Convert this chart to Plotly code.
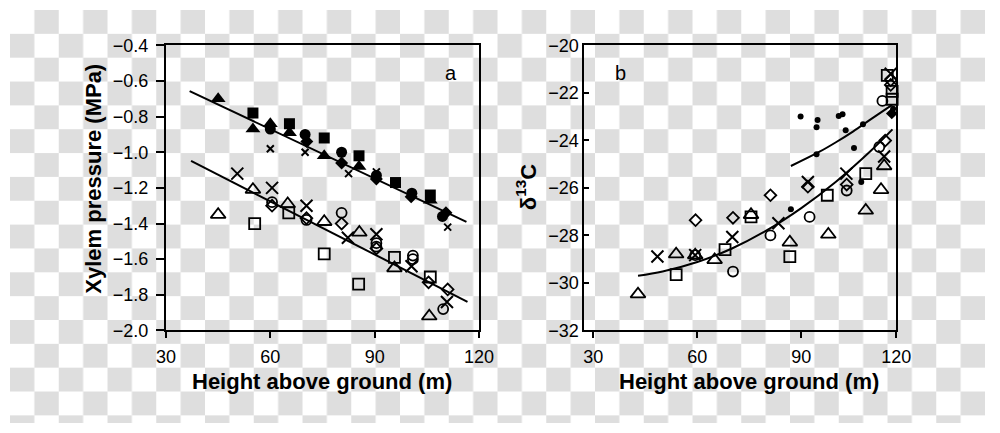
import base64
import plotly.graph_objects as go

# ---------------- Panel a: xylem pressure (MPa) vs height (m) ----------------
a_tri_f_h = [45, 55, 60, 65.5, 75.5, 85.5, 106]
a_tri_f_p = [-0.70, -0.87, -0.84, -0.89, -1.02, -1.08, -1.27]
a_sq_f_h = [55, 65.5, 75.5, 85.5, 96, 106]
a_sq_f_p = [-0.78, -0.84, -0.92, -1.02, -1.17, -1.24]
a_circ_f_h = [60, 70, 80.5, 90.5, 100.7, 109.5]
a_circ_f_p = [-0.87, -0.90, -1.00, -1.13, -1.23, -1.36]
a_dia_f_h = [70.5, 80.5, 90.5, 100.5, 110.5]
a_dia_f_p = [-0.94, -1.06, -1.15, -1.25, -1.34]
a_xs_h = [60, 70, 82.5, 90.5, 111]
a_xs_p = [-0.98, -1.00, -1.12, -1.11, -1.42]

a_tri_o_h = [45, 55, 65, 75.5, 85.6, 95.7, 105.7]
a_tri_o_p = [-1.35, -1.21, -1.29, -1.39, -1.45, -1.65, -1.92]
a_sq_o_h = [55.5, 65.3, 75.5, 85.4, 95.7, 106]
a_sq_o_p = [-1.40, -1.34, -1.57, -1.74, -1.59, -1.70]
a_circ_o_h = [60.5, 70.4, 80.5, 90.5, 90.5, 101, 101, 109.7]
a_circ_o_p = [-1.28, -1.38, -1.34, -1.51, -1.53, -1.58, -1.60, -1.88]
a_dia_o_h = [60.5, 70.4, 80.5, 90.5, 105.5, 111]
a_dia_o_p = [-1.30, -1.37, -1.40, -1.54, -1.73, -1.77]
a_x_h = [50.5, 60.5, 70.4, 82.3, 90.5, 100.6, 110.8]
a_x_p = [-1.12, -1.20, -1.30, -1.48, -1.46, -1.64, -1.84]

a_fit_f_h = [36.8, 116.4]
a_fit_f_p = [-0.657, -1.391]
a_fit_o_h = [37.2, 116.7]
a_fit_o_p = [-1.049, -1.839]

# ---------------- Panel b: delta 13C vs height (m) ----------------
b_dot_h = [89.8, 94.7, 94.4, 100.8, 101.9, 102.8, 107.8, 94.4, 105.2, 107.3, 87, 116.5]
b_dot_d = [-23.0, -23.14, -23.45, -22.98, -22.90, -23.57, -23.32, -24.59, -24.32, -25.75, -26.9, -22.67]
b_dia_f_h = [116.1]
b_dia_f_d = [-22.87]
b_tri_o_h = [42.9, 53.9, 59.4, 65, 75.5, 86.7, 97.8, 108.6, 113, 113.9]
b_tri_o_d = [-30.47, -28.79, -28.83, -29.03, -27.13, -28.29, -27.96, -26.95, -26.08, -25.08]
b_sq_o_h = [53.9, 68, 75.5, 86.7, 97.5, 108.6, 114.8, 116.2, 116.2]
b_sq_o_d = [-29.65, -28.6, -27.22, -28.89, -26.31, -25.4, -21.27, -21.94, -22.27]
b_circ_o_h = [59.4, 70.3, 81.1, 92.4, 103.1, 112.5, 113.4]
b_circ_o_d = [-28.83, -29.52, -28.0, -27.22, -26.11, -24.28, -22.34]
b_dia_o_h = [59.5, 70.3, 81.1, 91.9, 103.1, 114.2, 115.8, 115.8]
b_dia_o_d = [-27.36, -27.26, -26.31, -25.95, -25.86, -24.01, -21.47, -21.67]
b_x_h = [48.5, 59.4, 70.1, 83.4, 91.9, 103, 113.9, 115.8]
b_x_d = [-28.89, -28.83, -28.07, -27.49, -25.75, -25.4, -24.68, -21.2]

b_fit_f_h = [87, 95, 100, 105, 110, 116.2]
b_fit_f_d = [-25.08, -24.5, -24.08, -23.62, -23.12, -22.51]
b_fit_o_h = [42.9, 50, 60, 70, 80, 90, 100, 110, 116.3]
b_fit_o_d = [-29.7, -29.52, -29.12, -28.55, -27.79, -26.85, -25.74, -24.45, -23.54]

a_yticks = [-2.0, -1.8, -1.6, -1.4, -1.2, -1.0, -0.8, -0.6, -0.4]
x_tick_labels = ["30", "60", "90", "120"]
b_yticks = [-32, -30, -28, -26, -24, -22, -20]

FONT = "Liberation Sans, Arial, Helvetica, sans-serif"
W, H = 1000, 433

fig = go.Figure()


def pts(x, y, sym, size, xa, ya, lw=1.8):
    fig.add_trace(go.Scatter(
        x=x, y=y, mode="markers", xaxis=xa, yaxis=ya, cliponaxis=False,
        marker=dict(symbol=sym, size=size, color="black",
                    line=dict(color="black", width=lw)),
        showlegend=False, hoverinfo="skip"))


def line(x, y, xa, ya, shape="linear"):
    fig.add_trace(go.Scatter(
        x=x, y=y, mode="lines", xaxis=xa, yaxis=ya,
        line=dict(color="black", width=2, shape=shape),
        showlegend=False, hoverinfo="skip"))


# panel a
line(a_fit_f_h, a_fit_f_p, "x", "y")
line(a_fit_o_h, a_fit_o_p, "x", "y")
pts(a_tri_o_h, a_tri_o_p, "triangle-up-open", 13, "x", "y")
pts(a_sq_o_h, a_sq_o_p, "square-open", 11, "x", "y")
pts(a_circ_o_h, a_circ_o_p, "circle-open", 10, "x", "y")
pts(a_dia_o_h, a_dia_o_p, "diamond-open", 9, "x", "y")
pts(a_x_h, a_x_p, "x-thin-open", 12, "x", "y", lw=2)
pts(a_tri_f_h, a_tri_f_p, "triangle-up", 13, "x", "y", lw=0)
pts(a_sq_f_h, a_sq_f_p, "square", 11, "x", "y", lw=0)
pts(a_circ_f_h, a_circ_f_p, "circle", 11, "x", "y", lw=0)
pts(a_dia_f_h, a_dia_f_p, "diamond", 10, "x", "y", lw=0)
pts(a_xs_h, a_xs_p, "x-thin-open", 7, "x", "y", lw=2)

# panel b
line(b_fit_f_h, b_fit_f_d, "x2", "y2", "spline")
line(b_fit_o_h, b_fit_o_d, "x2", "y2", "spline")
pts(b_tri_o_h, b_tri_o_d, "triangle-up-open", 13, "x2", "y2")
pts(b_sq_o_h, b_sq_o_d, "square-open", 11, "x2", "y2")
pts(b_circ_o_h, b_circ_o_d, "circle-open", 10, "x2", "y2")
pts(b_dia_o_h, b_dia_o_d, "diamond-open", 9, "x2", "y2")
pts(b_x_h, b_x_d, "x-thin-open", 12, "x2", "y2", lw=2)
pts(b_dot_h, b_dot_d, "circle", 6, "x2", "y2", lw=0)
pts(b_dia_f_h, b_dia_f_d, "diamond", 9, "x2", "y2", lw=0)

# checkerboard (transparent-image) background
svg = ('<svg xmlns="http://www.w3.org/2000/svg" width="1000" height="433">'
       '<defs><pattern id="p" width="50" height="50" patternUnits="userSpaceOnUse">'
       '<rect width="50" height="50" fill="#ffffff"/>'
       '<rect x="25" y="0" width="25" height="25" fill="#dedede"/>'
       '<rect x="0" y="25" width="25" height="25" fill="#dedede"/>'
       '</pattern></defs><rect width="1000" height="433" fill="url(#p)"/></svg>')
src = "data:image/svg+xml;base64," + base64.b64encode(svg.encode()).decode()

ytop, ybot = 37, 336
ydom = [1 - ybot / H, 1 - ytop / H]
tickfont = dict(family=FONT, size=18, color="black")
common = dict(showline=True, linecolor="black", linewidth=2, mirror=True,
              showgrid=False, zeroline=False, tickfont=tickfont,
              tickcolor="black", tickwidth=2)

fig.update_layout(
    width=W, height=H,
    margin=dict(l=0, r=0, t=0, b=0),
    paper_bgcolor="white", plot_bgcolor="rgba(0,0,0,0)",
    font=dict(family=FONT, color="black"),
    images=[dict(source=src, xref="paper", yref="paper", x=0, y=1,
                 sizex=1, sizey=1, xanchor="left", yanchor="top",
                 sizing="stretch", layer="below")],
    xaxis=dict(domain=[160 / W, 481 / W], range=[30, 120],
               tickvals=[30, 60, 90, 120], ticktext=x_tick_labels,
               ticks="outside", ticklen=6, ticklabelstandoff=3, anchor="y", **common),
    yaxis=dict(domain=ydom, range=[-2.0, -0.4], tickvals=a_yticks,
               tickformat=".1f", ticks="outside", ticklen=8, ticklabelstandoff=4,
               anchor="x", **common),
    xaxis2=dict(domain=[589 / W, 909 / W], range=[27.4, 117.4],
                tickvals=[30, 60, 90, 117.4], ticktext=x_tick_labels,
                ticks="outside", ticklen=6, ticklabelstandoff=3, anchor="y2", **common),
    yaxis2=dict(domain=ydom, range=[-32, -20], tickvals=b_yticks,
                ticks="inside", ticklen=5, anchor="x2", **common),
)


def ann(text, px, py, size, angle=0):
    fig.add_annotation(text=text, x=px / W, y=1 - py / H, xref="paper", yref="paper",
                       showarrow=False, textangle=angle, xanchor="center", yanchor="middle",
                       font=dict(family=FONT, size=size, color="black"))


ann("<b>Height above ground (m)</b>", 320.5, 389, 22)
ann("<b>Height above ground (m)</b>", 758, 389, 22)
ann("<b>Xylem pressure (MPa)</b>", 86, 177, 22, -90)
ann("<b>δ<sup>13</sup>C</b>", 530, 186, 22, -90)
ann("a", 452, 66, 20)
ann("b", 626, 66, 20)

fig.write_html("out.html")
